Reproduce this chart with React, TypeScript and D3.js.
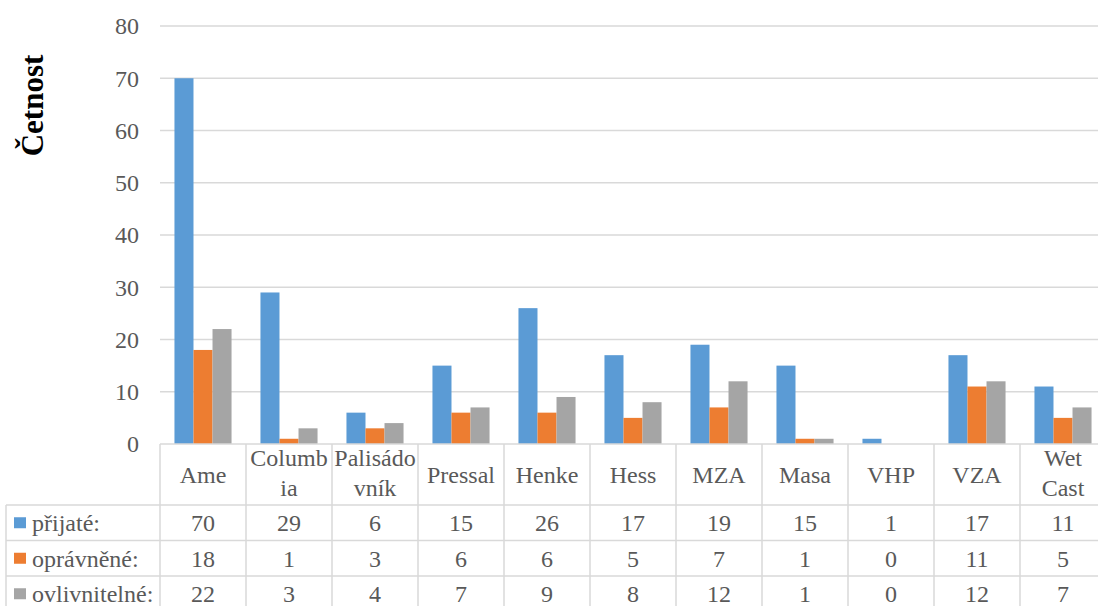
import React from "react";
import * as d3 from "d3";

const categories = ["Ame", "Columbia", "Palisádovník", "Pressal", "Henke", "Hess", "MZA", "Masa", "VHP", "VZA", "Wet Cast"];
const categoryLines = [["Ame"], ["Columb", "ia"], ["Palisádo", "vník"], ["Pressal"], ["Henke"], ["Hess"], ["MZA"], ["Masa"], ["VHP"], ["VZA"], ["Wet", "Cast"]];
const seriesNames = ["přijaté:", "oprávněné:", "ovlivnitelné:"];
const prijate = [70, 29, 6, 15, 26, 17, 19, 15, 1, 17, 11];
const opravnene = [18, 1, 3, 6, 6, 5, 7, 1, 0, 11, 5];
const ovlivnitelne = [22, 3, 4, 7, 9, 8, 12, 1, 0, 12, 7];
const yTicks = [0, 10, 20, 30, 40, 50, 60, 70, 80];
const colors = ["#5B9BD5", "#ED7D31", "#A5A5A5"];

const W = 1098, H = 606;
const plotLeft = 160, plotRight = 1106, plotTop = 26, plotBottom = 444;
const tableLeft = 6;
const headerBottom = 505;
const rowHeight = 35.5;
const grid = "#d9d9d9";
const textColor = "#595959";
const font = "Liberation Serif";
const fs = 24;

export default function App() {
  const series = [prijate, opravnene, ovlivnitelne];
  const x = d3.scaleBand<string>().domain(categories).range([plotLeft, plotRight]).paddingInner(0).paddingOuter(0);
  const xs = d3.scaleBand<number>().domain([0, 1, 2]).range([0, x.bandwidth()]).paddingInner(0).paddingOuter(0.76);
  const y = d3.scaleLinear().domain([0, 80]).range([plotBottom, plotTop]);

  const rowTops = seriesNames.map((_, i) => headerBottom + i * rowHeight);
  const tableBottom = headerBottom + 3 * rowHeight;
  const ts = { fontFamily: font } as React.CSSProperties;

  return (
    <svg width={W} height={H} style={{ position: "absolute", left: 0, top: 0, background: "#fff", fontFamily: font }}>
      <rect width={W} height={H} fill="#fff" />
      {yTicks.map((t) => (
        <g key={t}>
          {t !== 0 && <line x1={plotLeft} x2={plotRight} y1={y(t)} y2={y(t)} stroke={grid} strokeWidth={1.3} />}
          <text style={ts} x={139} y={y(t)} dy="0.35em" textAnchor="end" fontSize={fs} fill={textColor}>{t}</text>
        </g>
      ))}
      {series.map((vals, si) =>
        vals.map((v, ci) => (
          <rect key={`${si}-${ci}`} x={(x(categories[ci]) as number) + (xs(si) as number)} y={y(v)} width={xs.bandwidth()} height={plotBottom - y(v)} fill={colors[si]} />
        ))
      )}
      <text style={ts} transform={`translate(43,105.5) rotate(-90)`} textAnchor="middle" fontSize={31} fontWeight="bold" fill="#000">Četnost</text>
      <line x1={plotLeft} x2={plotRight} y1={plotBottom} y2={plotBottom} stroke={grid} strokeWidth={1.5} />
      {[headerBottom, ...rowTops.slice(1), tableBottom].map((yy, i) => (
        <line key={i} x1={tableLeft} x2={plotRight} y1={yy} y2={yy} stroke={grid} strokeWidth={1.5} />
      ))}
      <line x1={tableLeft} x2={tableLeft} y1={headerBottom} y2={tableBottom} stroke={grid} strokeWidth={1.5} />
      {categories.map((c) => (
        <line key={c} x1={x(c) as number} x2={x(c) as number} y1={plotBottom} y2={tableBottom} stroke={grid} strokeWidth={1.5} />
      ))}
      <line x1={plotRight} x2={plotRight} y1={plotBottom} y2={tableBottom} stroke={grid} strokeWidth={1.5} />
      {categoryLines.map((lines, ci) => {
        const cx = (x(categories[ci]) as number) + x.bandwidth() / 2;
        const lh = 30;
        const base = 482.5 - ((lines.length - 1) * lh) / 2 + (lines.length > 1 ? -1.5 : 0);
        return (
          <text style={ts} key={ci} x={cx} textAnchor="middle" fontSize={fs} fill={textColor}>
            {lines.map((l, li) => (
              <tspan key={li} x={cx} y={base + li * lh}>{l}</tspan>
            ))}
          </text>
        );
      })}
      {seriesNames.map((name, si) => {
        const cy = rowTops[si] + rowHeight / 2;
        return (
          <g key={name}>
            <rect x={14} y={cy - 5.5} width={12} height={11} fill={colors[si]} />
            <text style={ts} x={32} y={cy} dy="0.35em" fontSize={fs} fill={textColor}>{name}</text>
            {series[si].map((v, ci) => (
              <text style={ts} key={ci} x={(x(categories[ci]) as number) + x.bandwidth() / 2} y={cy} dy="0.35em" textAnchor="middle" fontSize={fs} fill={textColor}>{v}</text>
            ))}
          </g>
        );
      })}
    </svg>
  );
}
